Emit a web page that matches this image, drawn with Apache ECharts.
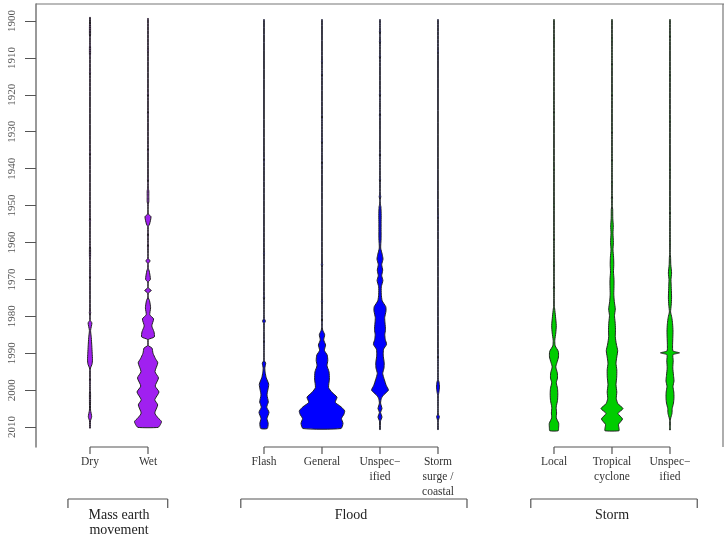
<!DOCTYPE html>
<html>
<head>
<meta charset="utf-8">
<script src="https://cdn.jsdelivr.net/npm/echarts@6/dist/echarts.min.js"></script>
<style>
html, body { margin: 0; padding: 0; background: #fff; }
#chart { width: 724px; height: 539px; }
</style>
</head>
<body>
<div id="chart"></div>
<script>
// categories on the x axis and the group each belongs to
var catNames = ['Dry', 'Wet', 'Flash', 'General', 'Unspec\u2212\nified', 'Storm\nsurge /\ncoastal', 'Local', 'Tropical\ncyclone', 'Unspec\u2212\nified'];
var catPos = [1, 2, 4, 5, 6, 7, 9, 10, 11];
var catGroup = [0, 0, 1, 1, 1, 1, 2, 2, 2];
var groupNames = ['Mass earth\nmovement', 'Flood', 'Storm'];
var yearTicks = [1900, 1910, 1920, 1930, 1940, 1950, 1960, 1970, 1980, 1990, 2000, 2010];

// bean profiles: [year, density]
var dryBean = [[1899, 0], [1901.5, 0.55], [1903.8, 0.55], [1907, 0.55], [1909, 0.55], [1914, 0.55], [1936, 0.55], [1954, 0.6], [1961.5, 0.55], [1963.8, 0.55], [1969.3, 0.55], [1979, 0.7], [1981.8, 1.9], [1983.8, 0.6], [1985.8, 1.3], [1988, 1.8], [1990, 2.2], [1991.8, 2.5], [1993, 2.0], [1994, 0.5], [1997.3, 0.55], [2000.8, 0.55], [2003, 0.55], [2005.4, 0.55], [2007.2, 1.7], [2008.3, 0.5], [2010.3, 0]];
var wetBean = [[1899.3, 0], [1908, 0.55], [1920, 0.55], [1925, 0.55], [1935, 0.55], [1943, 0.55], [1946, 0.8], [1947.5, 0.8], [1949, 0.8], [1953, 3.0], [1955, 1.6], [1958, 0.55], [1961, 0.55], [1965, 2.1], [1967.7, 1.2], [1970, 2.4], [1973, 3.3], [1975.7, 1.5], [1977.7, 2.6], [1979.6, 1.8], [1980.7, 5.6], [1982.6, 3.8], [1984.2, 6.0], [1985.6, 6.3], [1988.6, 4.0], [1990, 5.0], [1991.5, 7.5], [1992.6, 9.8], [1995, 7.0], [1996.7, 10.5], [1998.9, 7.2], [2000.5, 11], [2002.6, 6.8], [2004, 9.7], [2006.2, 6.8], [2007.5, 10], [2008.5, 13.5], [2009.5, 12], [2010.1, 10]];
var flashBean = [[1899.6, 0], [1937.7, 0.5], [1963, 0.55], [1975, 0.6], [1981.3, 1.4], [1987, 0.5], [1992.7, 1.7], [1994, 0.8], [1995.2, 1.2], [1996.6, 2.2], [1998.4, 4.7], [2000, 3.8], [2001.3, 3.0], [2003.2, 4.3], [2004.6, 2.7], [2006, 5.0], [2007.7, 3.0], [2009, 4.2], [2010.4, 3.2]];
var generalBean = [[1899.6, 0], [1911, 0.55], [1914.6, 0.55], [1926, 0.55], [1932.7, 0.55], [1938.5, 0.55], [1966, 0.7], [1976, 0.6], [1981, 0.55], [1983.8, 0.8], [1985, 2.7], [1986.4, 1.7], [1987.8, 3.6], [1989.2, 2.4], [1990.5, 5.2], [1992, 5.8], [1993.4, 5.0], [1995, 7.0], [1997, 7.4], [1999.3, 6.6], [2000.6, 10], [2001.9, 15], [2003.3, 13.3], [2004.5, 19], [2005.6, 22.7], [2006.5, 22], [2007.7, 19.5], [2009, 21], [2010.4, 19]];
var floodUnspBean = [[1899.6, 0], [1902.9, 0.6], [1905.6, 0.6], [1909.7, 0.6], [1920, 0.6], [1925.5, 0.6], [1936.3, 0.6], [1943, 0.6], [1947.6, 0.8], [1950.3, 0.9], [1952.7, 1.2], [1954.8, 1.1], [1957, 1.1], [1959, 1.1], [1961.5, 0.7], [1963.2, 2.2], [1964.5, 3.0], [1966, 1.7], [1967.5, 2.7], [1969, 1.7], [1970.3, 2.9], [1972, 1.3], [1974, 1.3], [1975.8, 2.2], [1977.4, 5.8], [1978.6, 6.0], [1980.3, 4.7], [1981.8, 5.0], [1983.6, 5.5], [1985, 4.8], [1986.3, 5.3], [1987.6, 6.6], [1988.9, 3.6], [1990.5, 3.2], [1992.6, 4.2], [1994, 4.0], [1995.5, 2.7], [1997.2, 4.4], [1998.7, 6.2], [2000, 8.4], [2001.2, 4.0], [2002.2, 1.4], [2003.5, 0.6], [2005, 2.0], [2006, 0.6], [2007.3, 2.0], [2008.4, 0.5], [2010.7, 0]];
var surgeBean = [[1899.6, 0], [1908.3, 0.5], [1953, 0.5], [1991, 0.5], [1997.8, 1.0], [1999.2, 1.5], [2000.4, 1.0], [2001.5, 0.3], [2007.2, 1.4], [2008.3, 0.3], [2010.7, 0]];
var localBean = [[1899.6, 0], [1905, 0.5], [1925, 0.5], [1940, 0.5], [1950, 0.5], [1959, 0.5], [1966, 0.55], [1972.4, 0.6], [1978, 0.7], [1980, 1.5], [1982.5, 2.3], [1984.5, 1.8], [1986.5, 0.8], [1988, 1.2], [1989.5, 4.3], [1991, 4.5], [1992.5, 3.0], [1993.7, 1.8], [1995.3, 3.3], [1996.7, 3.5], [1998, 2.3], [1999.5, 3.5], [2001, 3.8], [2002.8, 3.5], [2004.6, 2.2], [2006.2, 2.6], [2007.5, 2.3], [2009, 4.7], [2010.2, 4.6], [2011, 4.2]];
var tropBean = [[1899.6, 0], [1905, 0.5], [1912, 0.5], [1920, 0.5], [1930, 0.5], [1938, 0.5], [1944, 0.55], [1948, 0.6], [1951, 0.7], [1953.5, 0.8], [1955.5, 1.3], [1957.5, 1.0], [1960, 1.4], [1962, 1.0], [1964, 1.6], [1966, 1.8], [1968, 1.5], [1970, 2.0], [1972, 2.0], [1974, 1.8], [1976, 2.3], [1978, 3.3], [1979.8, 2.5], [1981.5, 3.1], [1983.5, 3.5], [1985.5, 3.3], [1987.5, 4.3], [1989.3, 5.7], [1991, 4.8], [1992.7, 4.0], [1994.5, 4.8], [1996.5, 4.7], [1998.5, 4.0], [2000.5, 4.8], [2002.3, 4.3], [2003.7, 6.0], [2005, 11], [2006.3, 6.0], [2007.8, 10.5], [2009.3, 6.5], [2010.3, 7.0], [2011, 7.0]];
var stormUnspBean = [[1899.6, 0], [1904, 0.5], [1915, 0.5], [1927, 0.5], [1940, 0.5], [1952, 0.5], [1960, 0.5], [1964, 0.6], [1966, 0.8], [1968.3, 1.6], [1970, 1.0], [1972.5, 1.3], [1975, 1.6], [1977, 1.2], [1978.8, 0.6], [1980.3, 1.8], [1982, 2.6], [1984, 3.0], [1986, 2.8], [1988, 2.6], [1989.4, 3.0], [1989.9, 9.5], [1990.4, 3.0], [1992, 3.2], [1994, 2.8], [1996, 3.5], [1997.5, 4.0], [1999, 3.0], [2000.5, 3.8], [2002, 4.0], [2003.5, 3.5], [2005, 2.2], [2006.3, 2.0], [2007.5, 0.8], [2008.2, 0.3], [2010.8, 0]];
var beans = [dryBean, wetBean, flashBean, generalBean, floodUnspBean, surgeBean, localBean, tropBean, stormUnspBean];

var groupColors = ['#a020f0', '#0000ff', '#00cd00'];
var groupSpan = [[0.62, 2.34], [3.6, 7.5], [8.6, 11.47]]; // bracket ends, x units
var beanScale = 1 / 58;   // density -> x units
var minDens = 0.3;
var gapYears = 2.5;       // knots further apart than this pinch to the bean line
var serif = '"Liberation Serif", "DejaVu Serif", serif';

function beanPoints(api, pos, prof) {
  var pts = [];
  for (var i = 0; i < prof.length; i++) {
    if (i > 0 && prof[i][0] - prof[i - 1][0] > gapYears) {
      pts.push([prof[i - 1][0] + 0.7, 0]);
      pts.push([prof[i][0] - 0.7, 0]);
    }
    pts.push(prof[i]);
  }
  var right = [], left = [];
  pts.forEach(function (p) {
    var w = Math.max(p[1], minDens) * beanScale;
    right.push(api.coord([pos + w, p[0]]));
    left.unshift(api.coord([pos - w, p[0]]));
  });
  return right.concat(left);
}

var chart = echarts.init(document.getElementById('chart'));
var option = {
  backgroundColor: '#fff',
  animation: false,
  grid: { left: 36, top: 4, right: 1, bottom: 92 },
  xAxis: {
    type: 'value',
    min: 0.069,
    max: 11.914,
    axisLine: { show: false },
    axisTick: { show: false },
    splitLine: { show: false },
    axisLabel: {
      customValues: catPos,
      formatter: function (v) { return catNames[catPos.indexOf(v)]; },
      fontFamily: serif,
      fontSize: 11.5,
      lineHeight: 15,
      color: '#333',
      margin: 7
    }
  },
  yAxis: {
    type: 'value',
    inverse: true,
    min: 1895.4,
    max: 2015.4,
    axisLine: { show: true, lineStyle: { color: '#777', width: 1.5 } },
    axisTick: { show: true, customValues: yearTicks, length: 11, lineStyle: { color: '#555', width: 1 } },
    axisLabel: {
      customValues: yearTicks,
      formatter: function (v) { return String(v); },
      rotate: 90,
      fontFamily: serif,
      fontSize: 11,
      color: '#555',
      margin: 18
    },
    splitLine: { show: false }
  },
  series: [{
    type: 'custom',
    data: catPos.map(function (p, i) { return [p, 1950, i]; }),
    encode: { x: 0, y: 1 },
    renderItem: function (params, api) {
      var i = api.value(2);
      return {
        type: 'polygon',
        shape: { points: beanPoints(api, api.value(0), beans[i]), smooth: 0.2 },
        style: { fill: groupColors[catGroup[i]], stroke: '#222', lineWidth: 1 }
      };
    }
  }]
};
chart.setOption(option);

// frame and category brackets
var axisY = 447;
function px(v) { return chart.convertToPixel({ xAxisIndex: 0 }, v); }
function seg(x1, y1, x2, y2, c) {
  return { type: 'line', shape: { x1: x1, y1: y1, x2: x2, y2: y2 }, style: { stroke: c || '#555', lineWidth: 1.2 } };
}
var els = [seg(36, 4, 724, 4, '#777'), seg(723, 4, 723, axisY, '#777')];
groupNames.forEach(function (name, gi) {
  var ps = catPos.filter(function (p, i) { return catGroup[i] === gi; });
  var x0 = px(ps[0]), x1 = px(ps[ps.length - 1]);
  els.push(seg(x0, axisY, x1, axisY));
  ps.forEach(function (p) { els.push(seg(px(p), axisY, px(p), axisY + 7)); });
  var s0 = px(groupSpan[gi][0]), s1 = px(groupSpan[gi][1]);
  els.push(seg(s0, 499, s1, 499), seg(s0, 499, s0, 508), seg(s1, 499, s1, 508));
  els.push({
    type: 'text', x: (x0 + x1) / 2, y: 508,
    style: { text: name, fontFamily: serif, fontSize: 14, lineHeight: 15, fill: '#222', align: 'center', verticalAlign: 'top' }
  });
});
chart.setOption({ graphic: els });
</script>
</body>
</html>
